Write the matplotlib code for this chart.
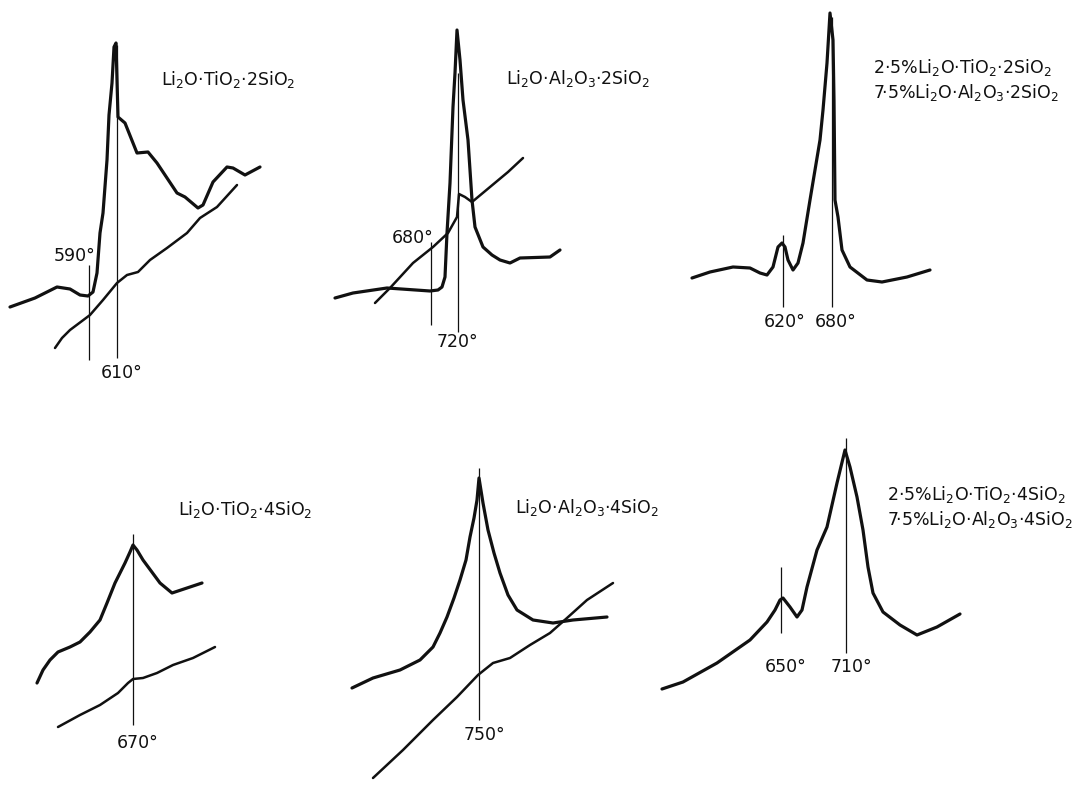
import matplotlib
matplotlib.use("Agg")
import matplotlib.pyplot as plt

plt.rcParams['font.family'] = ['DejaVu Sans']
plt.rcParams['mathtext.fontset'] = 'dejavusans'
plt.rcParams['mathtext.default'] = 'regular'

# traced curves, in page position units (x to the right, y downwards)
# panel 1: Li2O.TiO2.2SiO2
p1_dta_x = [10, 35, 57, 70, 80, 88, 93, 97, 100, 103, 107, 109, 112, 114, 116, 117, 118, 125, 137, 148, 157, 177, 185, 198, 203, 213, 227, 233, 245, 260]
p1_dta_y = [307, 298, 287, 289, 295, 296, 292, 273, 233, 213, 160, 115, 83, 47, 43, 80, 117, 123, 153, 152, 163, 193, 197, 208, 205, 182, 167, 168, 175, 167]
p1_base_x = [55, 62, 70, 90, 103, 117, 127, 138, 150, 167, 187, 200, 217, 237]
p1_base_y = [348, 338, 330, 315, 300, 283, 275, 272, 260, 248, 233, 218, 207, 185]

# panel 2: Li2O.Al2O3.2SiO2
p2_dta_x = [335, 353, 387, 430, 438, 442, 445, 447, 450, 453, 455, 457, 460, 463, 468, 472, 475, 483, 492, 500, 510, 520, 550, 560]
p2_dta_y = [298, 293, 288, 291, 290, 287, 277, 233, 183, 107, 73, 30, 60, 100, 140, 200, 227, 247, 255, 260, 263, 258, 257, 250]
p2_base_x = [375, 390, 413, 433, 448, 457, 459, 465, 472, 490, 508, 523]
p2_base_y = [303, 288, 263, 247, 233, 217, 194, 197, 202, 187, 172, 158]

# panel 3: 2.5% Li2O.TiO2.2SiO2 + 7.5% Li2O.Al2O3.2SiO2
p3_dta_x = [692, 710, 733, 750, 760, 767, 773, 778, 782, 785, 788, 793, 798, 803, 810, 820, 823, 827, 830, 833, 834, 835, 838, 842, 850, 867, 882, 907, 930]
p3_dta_y = [278, 272, 267, 268, 273, 275, 267, 247, 243, 247, 260, 270, 263, 243, 200, 140, 110, 63, 13, 40, 100, 200, 217, 250, 267, 280, 282, 277, 270]

# panel 4: Li2O.TiO2.4SiO2
p4_dta_x = [37, 43, 50, 58, 70, 80, 90, 100, 107, 115, 125, 130, 133, 137, 143, 160, 172, 187, 202]
p4_dta_y = [683, 670, 660, 652, 647, 642, 632, 620, 603, 583, 563, 552, 545, 550, 560, 583, 593, 588, 583]
p4_base_x = [58, 80, 100, 118, 128, 133, 143, 157, 173, 193, 215]
p4_base_y = [727, 715, 705, 693, 683, 679, 678, 673, 665, 658, 647]

# panel 5: Li2O.Al2O3.4SiO2
p5_dta_x = [352, 373, 400, 420, 433, 440, 447, 454, 460, 466, 470, 474, 477, 479, 483, 488, 494, 500, 508, 517, 533, 553, 573, 607]
p5_dta_y = [688, 678, 670, 660, 647, 633, 617, 598, 580, 560, 537, 518, 500, 478, 503, 530, 553, 573, 595, 610, 620, 623, 620, 617]
p5_base_x = [373, 403, 433, 457, 478, 493, 510, 530, 550, 567, 587, 613]
p5_base_y = [778, 750, 720, 697, 675, 663, 658, 645, 633, 618, 600, 583]

# panel 6: 2.5% Li2O.TiO2.4SiO2 + 7.5% Li2O.Al2O3.4SiO2
p6_dta_x = [662, 683, 717, 750, 767, 775, 780, 783, 790, 797, 802, 807, 817, 827, 837, 845, 850, 857, 863, 868, 873, 883, 900, 917, 937, 960]
p6_dta_y = [689, 682, 663, 640, 622, 610, 600, 598, 607, 617, 610, 587, 550, 527, 483, 450, 467, 497, 530, 567, 593, 612, 625, 635, 627, 614]

# temperature markers: x, top, bottom, label, label x, label y
mark_x = [89, 117, 431, 458, 783, 832, 133, 479, 781, 846]
mark_top = [265, 45, 242, 73, 235, 17, 534, 468, 567, 438]
mark_bot = [360, 358, 325, 332, 307, 307, 725, 720, 633, 653]
mark_lab = ['590°', '610°', '680°', '720°', '620°', '680°', '670°', '750°', '650°', '710°']
mark_lx = [75, 122, 413, 457, 785, 836, 138, 484, 786, 851]
mark_ly = [256, 373, 238, 342, 322, 322, 743, 735, 667, 667]

# compositions
titles = [r'Li$_2$O·TiO$_2$·2SiO$_2$',
          r'Li$_2$O·Al$_2$O$_3$·2SiO$_2$',
          '2·5%' + r'Li$_2$O·TiO$_2$·2SiO$_2$' + '\n' + '7·5%' + r'Li$_2$O·Al$_2$O$_3$·2SiO$_2$',
          r'Li$_2$O·TiO$_2$·4SiO$_2$',
          r'Li$_2$O·Al$_2$O$_3$·4SiO$_2$',
          '2·5%' + r'Li$_2$O·TiO$_2$·4SiO$_2$' + '\n' + '7·5%' + r'Li$_2$O·Al$_2$O$_3$·4SiO$_2$']
title_x = [161, 506, 873, 178, 515, 887]
title_y = [79, 78, 80, 510, 508, 507]

fig = plt.figure(figsize=(10.78, 7.88), dpi=100)
ax = fig.add_axes([0, 0, 1, 1])
ax.set_xlim(0, 1078)
ax.set_ylim(788, 0)
ax.axis('off')

ink = '#111111'
for xs, ys in [(p1_dta_x, p1_dta_y), (p2_dta_x, p2_dta_y), (p3_dta_x, p3_dta_y),
               (p4_dta_x, p4_dta_y), (p5_dta_x, p5_dta_y), (p6_dta_x, p6_dta_y)]:
    ax.plot(xs, ys, color=ink, lw=2.3, solid_joinstyle='round', solid_capstyle='round')
for xs, ys in [(p1_base_x, p1_base_y), (p2_base_x, p2_base_y),
               (p4_base_x, p4_base_y), (p5_base_x, p5_base_y)]:
    ax.plot(xs, ys, color=ink, lw=1.8, solid_joinstyle='round', solid_capstyle='round')

ax.vlines(mark_x, mark_top, mark_bot, color=ink, lw=0.9)
for lab, lx, ly in zip(mark_lab, mark_lx, mark_ly):
    ax.text(lx, ly, lab, ha='center', va='center', fontsize=12.5, color=ink)

for t, tx, ty in zip(titles, title_x, title_y):
    ax.text(tx, ty, t, ha='left', va='center', fontsize=12.5, color=ink, linespacing=1.25)

fig.savefig('out.png', dpi=100, facecolor='white')
